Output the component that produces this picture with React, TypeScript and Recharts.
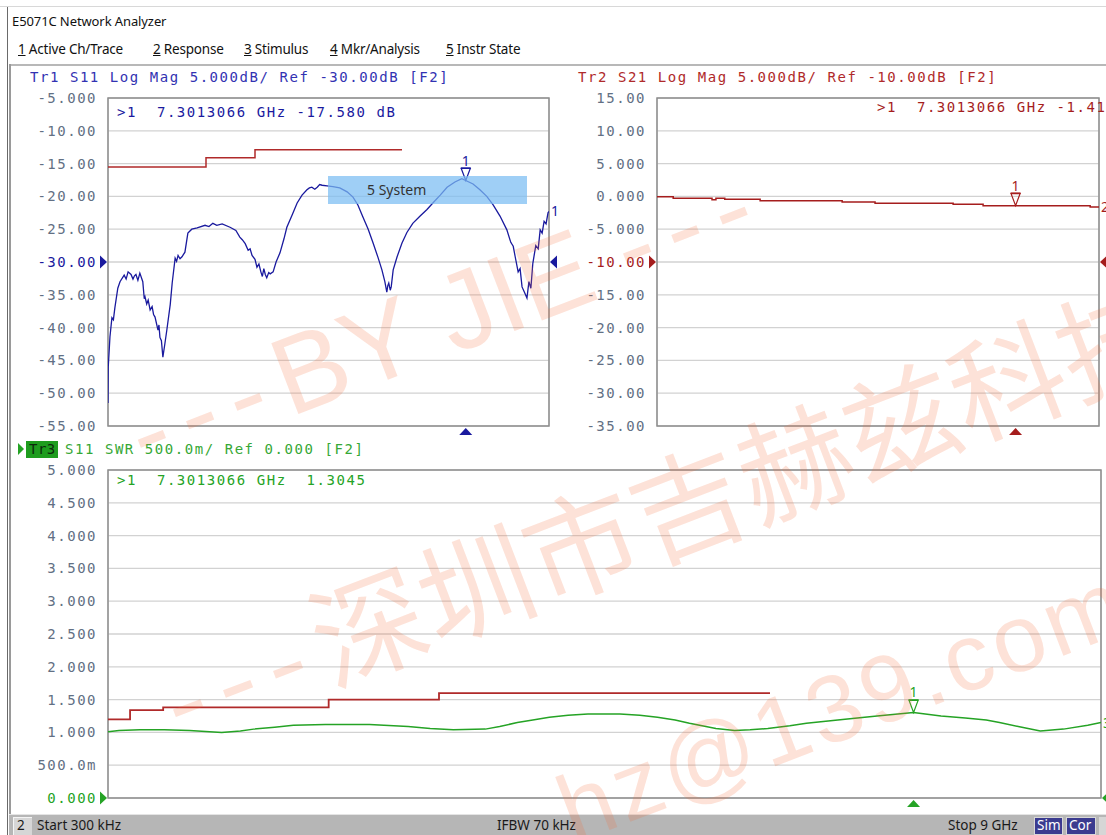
import React from 'react';
import { LineChart, Line, XAxis, YAxis, CartesianGrid, ReferenceDot, ReferenceArea } from 'recharts';

const MONO = '"DejaVu Sans Mono", "Liberation Mono", monospace';
const SANS = '"Noto Sans", "Open Sans", sans-serif';
const WM_FONT = '"Liberation Sans", "Noto Sans CJK SC", sans-serif';

const BLUE = '#1a1a9e';
const RED = '#a51d1d';
const GREEN = '#25a325';
const LIMIT_RED = '#b02a2a';
const TICK_GRAY = '#627084';
const GRID = '#d2d2d2';
const FRAME = '#8e8e8e';

// stimulus 300 kHz .. 9 GHz, 10 divisions
const freqGrid = [0, 0.9, 1.8, 2.7, 3.6, 4.5, 5.4, 6.3, 7.2, 8.1, 9];
const markerGHz = 7.3013066;

// Tr1 S11 Log Mag (GHz / dB)
const s11Freq = [
  0, 0.005, 0.04, 0.08, 0.11, 0.14, 0.2, 0.245, 0.33, 0.37, 0.41, 0.47, 0.51, 0.54, 0.57, 0.61, 0.65, 0.71,
  0.74, 0.755, 0.79, 0.82, 0.86, 0.9, 0.93, 0.96, 1.02, 1.04, 1.06, 1.09, 1.12, 1.16, 1.2, 1.27, 1.31, 1.37,
  1.4, 1.43, 1.47, 1.51, 1.57, 1.63, 1.71, 1.82, 1.98, 2.06, 2.14, 2.22, 2.33, 2.49, 2.61, 2.69, 2.74, 2.8,
  2.86, 2.9, 2.94, 3.0, 3.04, 3.08, 3.12, 3.15, 3.18, 3.21, 3.24, 3.28, 3.31, 3.37, 3.43, 3.51, 3.59, 3.65,
  3.76, 3.86, 3.96, 4.06, 4.11, 4.16, 4.22, 4.27, 4.32, 4.37, 4.47, 4.59, 4.73, 4.88, 5.0, 5.1, 5.2, 5.31,
  5.41, 5.51, 5.59, 5.65, 5.69, 5.71, 5.73, 5.76, 5.78, 5.82, 5.9, 6.0, 6.1, 6.22, 6.37, 6.51, 6.63, 6.78,
  6.92, 7.08, 7.22, 7.3, 7.45, 7.59, 7.73, 7.86, 8.0, 8.14, 8.22, 8.27, 8.31, 8.37, 8.41, 8.45, 8.51, 8.55,
  8.59, 8.63, 8.67, 8.73, 8.78, 8.82, 8.86, 8.9, 8.94, 8.98, 9.0,
];
const s11Db = [
  -51.5, -46.0, -41.4, -38.5, -38.8, -37.0, -34.0, -33.0, -32.0, -32.6, -31.5, -31.9, -32.6, -32.1, -31.9, -32.8, -31.7, -33.0,
  -35.6, -35.3, -36.4, -35.8, -37.3, -36.8, -38.0, -38.4, -40.4, -39.6, -41.5, -42.0, -44.5, -42.5, -40.4, -36.5, -33.2, -29.4,
  -29.9, -29.0, -29.5, -29.2, -28.5, -25.6, -25.0, -24.8, -24.4, -24.6, -24.1, -24.4, -24.2, -24.7, -25.2, -26.2, -26.6, -27.2,
  -28.2, -28.0, -29.0, -29.6, -30.8, -30.3, -31.5, -32.2, -31.0, -31.9, -32.4, -31.6, -31.8, -31.5, -30.0, -28.6, -26.5, -24.7,
  -22.8, -21.0, -19.8, -19.0, -18.7, -18.6, -18.9, -18.6, -18.2, -18.3, -18.4, -18.5, -18.7, -19.3, -20.1, -21.3, -23.1, -25.0,
  -27.1, -29.3, -31.2, -33.0, -34.6, -33.6, -33.2, -34.3, -33.8, -31.2, -29.2, -27.1, -25.5, -24.1, -23.0, -22.0, -21.0, -19.8,
  -18.6, -17.8, -17.3, -17.58, -18.1, -19.0, -20.0, -21.3, -23.0, -25.1, -27.0, -27.6, -29.2, -31.5, -31.0, -33.8, -34.8, -35.5,
  -33.0, -34.0, -30.2, -27.5, -28.0, -25.1, -25.6, -23.8, -24.2, -22.5, -22.3,
];
const s11LimitFreq = [0, 2, 3, 6];
const s11LimitDb = [-15.5, -14.1, -12.9, -12.9];
const s11Ticks = [-55, -50, -45, -40, -35, -30, -25, -20, -15, -10, -5];
const s11Labels = ['-55.00', '-50.00', '-45.00', '-40.00', '-35.00', '-30.00', '-25.00', '-20.00', '-15.00', '-10.00', '-5.000'];

// Tr2 S21 Log Mag
const s21Freq = [0, 0.33, 1.12, 1.2, 1.38, 2.1, 3.77, 4.44, 6.03, 6.64, 8.82, 9];
const s21Db = [-0.05, -0.3, -0.5, -0.3, -0.45, -0.65, -0.86, -1.06, -1.21, -1.42, -1.6, -1.6];
const s21Ticks = [-35, -30, -25, -20, -15, -10, -5, 0, 5, 10, 15];
const s21Labels = ['-35.00', '-30.00', '-25.00', '-20.00', '-15.00', '-10.00', '-5.000', '0.000', '5.000', '10.00', '15.00'];

// Tr3 S11 SWR
const swrFreq = [
  0, 0.1, 0.29, 0.51, 0.74, 1.03, 1.2, 1.32, 1.51, 1.68, 1.97, 2.37, 2.72, 2.92, 3.13, 3.42, 3.55, 3.71,
  3.85, 4.0, 4.17, 4.35, 4.64, 4.82, 4.98, 5.14, 5.27, 5.51, 5.68, 5.82, 5.98, 6.18, 6.33, 6.68, 6.97,
  7.3, 7.55, 7.77, 7.96, 8.08, 8.25, 8.45, 8.66, 8.88, 9.0,
];
const swrVal = [
  1.01, 1.03, 1.04, 1.04, 1.03, 1.0, 1.02, 1.05, 1.08, 1.11, 1.12, 1.12, 1.09, 1.06, 1.04, 1.05, 1.09, 1.15,
  1.19, 1.23, 1.26, 1.28, 1.28, 1.26, 1.23, 1.19, 1.14, 1.06, 1.03, 1.04, 1.06, 1.1, 1.14, 1.2, 1.25,
  1.3045, 1.25, 1.22, 1.19, 1.15, 1.09, 1.02, 1.05, 1.11, 1.15,
];
const swrLimitFreq = [0, 0.2, 0.5, 2, 3, 6];
const swrLimitVal = [1.2, 1.34, 1.38, 1.5, 1.6, 1.6];
const swrTicks = [0, 0.5, 1, 1.5, 2, 2.5, 3, 3.5, 4, 4.5, 5];
const swrLabels = ['0.000', '500.0m', '1.000', '1.500', '2.000', '2.500', '3.000', '3.500', '4.000', '4.500', '5.000'];

const zip = (fs: number[], vs: number[]) => fs.map((f, i) => ({ f, v: vs[i] }));

type Trace = { data: { f: number; v: number }[]; color: string; width: number; step?: boolean };

const markerShape = (color: string) => (p: any) => (
  <g>
    <text x={p.cx} y={p.cy - 15} textAnchor="middle" fontFamily={SANS} fontSize={14} fill={color}>1</text>
    <line x1={p.cx - 5} x2={p.cx + 5} y1={p.cy - 12.5} y2={p.cy - 12.5} stroke={color} strokeWidth={1.5} />
    <path d={`M${p.cx - 4.5},${p.cy - 12} L${p.cx + 4.5},${p.cy - 12} L${p.cx},${p.cy} Z`} fill="none" stroke={color} strokeWidth={1.2} />
  </g>
);
const stimShape = (color: string) => (p: any) => (
  <path d={`M${p.cx},${p.cy + 2} L${p.cx - 6.5},${p.cy + 9} L${p.cx + 6.5},${p.cy + 9} Z`} fill={color} />
);
const leftRef = (color: string) => (p: any) => (
  <path d={`M${p.cx - 1},${p.cy} L${p.cx - 8},${p.cy - 6.5} L${p.cx - 8},${p.cy + 6.5} Z`} fill={color} />
);
const rightRef = (color: string) => (p: any) => (
  <path d={`M${p.cx + 1},${p.cy} L${p.cx + 8},${p.cy - 6.5} L${p.cx + 8},${p.cy + 6.5} Z`} fill={color} />
);
const endLabel = (color: string, label: string) => (p: any) => (
  <text x={p.cx + 2} y={p.cy + 5} fontFamily={SANS} fontSize={14} fill={color}>{label}</text>
);

interface ChannelProps {
  left: number; top: number; width: number; height: number;
  margin: { top: number; right: number; bottom: number; left: number };
  yWidth: number; yDomain: [number, number]; yTicks: number[]; yLabels: string[];
  refVal: number; color: string; traces: Trace[]; markerVal: number; endText: string;
}

function Channel(c: ChannelProps) {
  const main = c.traces[0].data;
  const last = main[main.length - 1];
  const renderTick = (p: any) => {
    const i = c.yTicks.indexOf(p.payload.value);
    return (
      <text x={p.x - 3} y={p.y} textAnchor="end" dominantBaseline="central" fontFamily={MONO} fontSize={14}
        letterSpacing={1.5} fill={p.payload.value === c.refVal ? c.color : TICK_GRAY}>
        {c.yLabels[i]}
      </text>
    );
  };
  return (
    <div style={{ position: 'absolute', left: c.left, top: c.top }}>
      <LineChart width={c.width} height={c.height} margin={c.margin}>
        <CartesianGrid stroke={GRID} strokeWidth={1.3} />
        <XAxis type="number" dataKey="f" domain={[0, 9]} ticks={freqGrid} allowDataOverflow height={0}
          tick={false} tickLine={false} axisLine={false} />
        <YAxis type="number" domain={c.yDomain} ticks={c.yTicks} allowDataOverflow width={c.yWidth} interval={0}
          tickLine={false} axisLine={false} tick={renderTick} />
        <ReferenceArea x1={0} x2={9} y1={c.yDomain[0]} y2={c.yDomain[1]} fill="none" fillOpacity={0}
          stroke={FRAME} strokeWidth={1.5} />
        {c.traces.map((t, i) => (
          <Line key={i} data={t.data} dataKey="v" type={t.step ? 'stepAfter' : 'linear'} stroke={t.color}
            strokeWidth={t.width} dot={false} activeDot={false} isAnimationActive={false} />
        ))}
        <ReferenceDot x={markerGHz} y={c.markerVal} shape={markerShape(c.color)} />
        <ReferenceDot x={markerGHz} y={c.yDomain[0]} shape={stimShape(c.color)} />
        <ReferenceDot x={0} y={c.refVal} shape={leftRef(c.color)} />
        <ReferenceDot x={9} y={c.refVal} shape={rightRef(c.color)} />
        <ReferenceDot x={last.f} y={last.v} shape={endLabel(c.color, c.endText)} />
      </LineChart>
    </div>
  );
}

function Txt({ x, cy, color = '#000', size = 14, font = MONO, spacing = 1.55, children }: any) {
  return (
    <div style={{
      position: 'absolute', left: x, top: cy - size * 0.52, height: size, lineHeight: `${size}px`,
      fontFamily: font, fontSize: size, letterSpacing: spacing, color, whiteSpace: 'pre',
    }}>{children}</div>
  );
}

const menuItems = [
  { x: 18, n: '1', label: ' Active Ch/Trace' },
  { x: 153, n: '2', label: ' Response' },
  { x: 244, n: '3', label: ' Stimulus' },
  { x: 330, n: '4', label: ' Mkr/Analysis' },
  { x: 446, n: '5', label: ' Instr State' },
];

const wmBase: React.CSSProperties = {
  position: 'absolute', color: 'rgba(244,110,60,0.2)', fontFamily: WM_FONT, whiteSpace: 'pre',
  lineHeight: 1, transformOrigin: '0 0', transform: 'rotate(-21deg)', pointerEvents: 'none',
};

export default function App() {
  return (
    <div style={{ position: 'absolute', left: 0, top: 0, width: 1106, height: 835, overflow: 'hidden', background: '#fff' }}>
      {/* window chrome */}
      <div style={{ position: 'absolute', left: 0, top: 6, width: 1106, height: 1, background: '#d8d8d8' }} />
      <div style={{ position: 'absolute', left: 7, top: 7, width: 1, height: 828, background: '#6a6a6a' }} />
      <Txt x={12} cy={22} font={SANS} size={13} spacing={-0.1} color="#111">E5071C Network Analyzer</Txt>
      {menuItems.map((m) => (
        <Txt key={m.n} x={m.x} cy={50} font={SANS} size={13.5} spacing={-0.2} color="#111">
          <span style={{ textDecoration: 'underline' }}>{m.n}</span>{m.label}
        </Txt>
      ))}
      <div style={{ position: 'absolute', left: 9, top: 64, width: 1097, height: 2, background: '#b8b8b8' }} />
      <div style={{ position: 'absolute', left: 9, top: 64, width: 2, height: 751, background: '#9a9a9a' }} />

      {/* Tr1 */}
      <Txt x={30} cy={77} color="#3232b2">Tr1 S11 Log Mag 5.000dB/ Ref -30.00dB [F2]</Txt>
      <Channel left={0} top={0} width={560} height={440} margin={{ top: 98, right: 11, bottom: 14, left: 20 }}
        yWidth={88} yDomain={[-55, -5]} yTicks={s11Ticks} yLabels={s11Labels} refVal={-30} color={BLUE}
        traces={[
          { data: zip(s11Freq, s11Db), color: BLUE, width: 1.3 },
          { data: zip(s11LimitFreq, s11LimitDb), color: LIMIT_RED, width: 1.5, step: true },
        ]}
        markerVal={-17.58} endText="1" />
      <Txt x={117} cy={112} color={BLUE}>{'>1  7.3013066 GHz -17.580 dB'}</Txt>
      <div style={{
        position: 'absolute', left: 328, top: 176, width: 199, height: 28, background: 'rgba(122,188,242,0.72)',
        fontFamily: SANS, fontSize: 14, lineHeight: '27px', color: '#333', paddingLeft: 39, boxSizing: 'border-box',
      }}>5 System</div>

      {/* Tr2 */}
      <Txt x={578} cy={77} color="#b02a2a">Tr2 S21 Log Mag 5.000dB/ Ref -10.00dB [F2]</Txt>
      <Channel left={560} top={0} width={546} height={440} margin={{ top: 98, right: 7, bottom: 14, left: 0 }}
        yWidth={97} yDomain={[-35, 15]} yTicks={s21Ticks} yLabels={s21Labels} refVal={-10} color={RED}
        traces={[{ data: zip(s21Freq, s21Db), color: RED, width: 1.5, step: true }]}
        markerVal={-1.41} endText="2" />
      <Txt x={877} cy={107} color={RED}>{'>1  7.3013066 GHz -1.41 dB'}</Txt>

      {/* Tr3 */}
      <svg style={{ position: 'absolute', left: 16, top: 442 }} width={10} height={14}>
        <path d="M2,1 L8,7 L2,13 Z" fill={GREEN} />
      </svg>
      <div style={{ position: 'absolute', left: 26, top: 441, width: 32, height: 17, background: '#1e9c1e' }} />
      <Txt x={29} cy={449} color="#0c2a0c" spacing={0.5}>Tr3</Txt>
      <Txt x={65} cy={449} color="#36a836">S11 SWR 500.0m/ Ref 0.000 [F2]</Txt>
      <Channel left={0} top={440} width={1106} height={380} margin={{ top: 30, right: 5, bottom: 22, left: 20 }}
        yWidth={88} yDomain={[0, 5]} yTicks={swrTicks} yLabels={swrLabels} refVal={0} color={GREEN}
        traces={[
          { data: zip(swrFreq, swrVal), color: GREEN, width: 1.5 },
          { data: zip(swrLimitFreq, swrLimitVal), color: LIMIT_RED, width: 1.8, step: true },
        ]}
        markerVal={1.3045} endText="3" />
      <Txt x={117} cy={480} color={GREEN}>{'>1  7.3013066 GHz  1.3045'}</Txt>

      {/* status bar */}
      <div style={{ position: 'absolute', left: 9, top: 814, width: 1097, height: 21, background: '#b6b6b6', borderTop: '1px solid #e4e4e4' }} />
      <div style={{ position: 'absolute', left: 13, top: 817, width: 18, height: 18, background: '#d6d6d6', borderLeft: '1px solid #f4f4f4', borderTop: '1px solid #f4f4f4' }} />
      <Txt x={17} cy={826} font={SANS} size={13.5} spacing={0} color="#1a1a1a">2</Txt>
      <Txt x={37} cy={826} font={SANS} size={13.5} spacing={0} color="#1a1a1a">Start 300 kHz</Txt>
      <Txt x={497} cy={826} font={SANS} size={13.5} spacing={0} color="#1a1a1a">IFBW 70 kHz</Txt>
      <Txt x={948} cy={826} font={SANS} size={13.5} spacing={0} color="#1a1a1a">Stop 9 GHz</Txt>
      <div style={{ position: 'absolute', left: 1034, top: 817, width: 29, height: 18, background: '#3b3b8f', border: '1px solid #d8d8d8', boxSizing: 'border-box' }} />
      <div style={{ position: 'absolute', left: 1066, top: 817, width: 30, height: 18, background: '#3b3b8f', border: '1px solid #d8d8d8', boxSizing: 'border-box' }} />
      <Txt x={1037} cy={826} font={SANS} size={13.5} spacing={0} color="#fff">Sim</Txt>
      <Txt x={1069} cy={826} font={SANS} size={13.5} spacing={0} color="#fff">Cor</Txt>
      <div style={{ position: 'absolute', left: 1099, top: 817, width: 7, height: 18, background: '#d6d6d6' }} />

      {/* watermark */}
      <div style={{ ...wmBase, left: 112, top: 386, fontSize: 110 }}>
        <span style={{ letterSpacing: 15 }}>---</span>BY JIE <span style={{ letterSpacing: 15 }}>---</span>
      </div>
      <div style={{ ...wmBase, left: 143, top: 646, fontSize: 114, fontFamily: '"Noto Sans CJK SC", sans-serif' }}>
        <span style={{ letterSpacing: 14 }}>---</span>深圳市吉赫兹科技
      </div>
      <div style={{ ...wmBase, left: 545, top: 769, fontSize: 95, letterSpacing: 4 }}>hz@139.com</div>
    </div>
  );
}
